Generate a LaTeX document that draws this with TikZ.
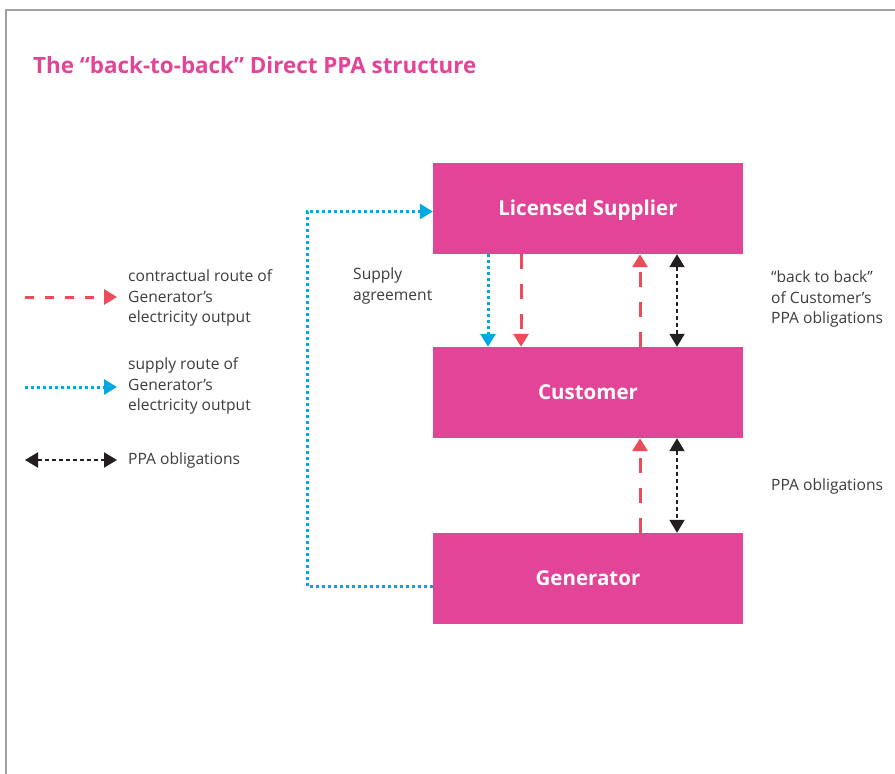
\documentclass[tikz,border=0pt]{standalone}
\usepackage{fontspec}
\setmainfont{Open Sans}
\usetikzlibrary{arrows.meta,calc}
\definecolor{ppapink}{HTML}{E24497}
\definecolor{ppared}{HTML}{EE4B5A}
\definecolor{ppablue}{HTML}{00A9E0}
\definecolor{ppablack}{HTML}{231F20}
\definecolor{ppagrey}{HTML}{A0A0A0}
\definecolor{ppatext}{HTML}{3C3C3C}
\tikzset{
  box/.style={fill=ppapink, minimum width=310pt, minimum height=91pt, inner sep=0pt,
    text=white, font=\fontsize{20.5}{24}\selectfont\bfseries, text height=14.6pt, text depth=0pt},
  lbl/.style={anchor=west, align=left, inner sep=0pt, text=ppatext,
    font=\fontsize{15.6}{20.5}\selectfont},
  redarr/.style={draw=ppared, line width=3pt, dash pattern=on 15pt off 15pt,
    -{Triangle[width=15pt,length=13pt,fill=ppared]}},
  legred/.style={draw=ppared, line width=3pt, dash pattern=on 9pt off 11pt,
    -{Triangle[width=15pt,length=13pt,fill=ppared]}},
  bluearr/.style={draw=ppablue, line width=3pt, dash pattern=on 3pt off 3pt,
    -{Triangle[width=15pt,length=13pt,fill=ppablue]}},
  blkarr/.style={draw=ppablack, line width=2pt, dash pattern=on 4pt off 3pt,
    {Triangle[width=15pt,length=13pt,fill=ppablack]}-{Triangle[width=15pt,length=13pt,fill=ppablack]}},
}
\begin{document}
\begin{tikzpicture}[x=1pt,y=-1pt]
\useasboundingbox (0,0) rectangle (895,774);
% frame
\draw[ppagrey, line width=1.5pt] (6,774) -- (6,10) -- (895,10);
% title
\node[anchor=west, inner sep=0pt, text=ppapink, font=\fontsize{22.4}{26}\selectfont\bfseries] (title) at (33,65) {The “back-to-back” Direct PPA structure};
% boxes
\node[box] (LS) at (588,208.5) {Licensed Supplier};
\node[box] (C) at (588,392.5) {Customer};
\node[box] (G) at (588,578.5) {Generator};
% x positions
\coordinate (xb) at (488,0);
\coordinate (xr) at (521,0);
\coordinate (xu) at (640,0);
\coordinate (xk) at (677,0);
% arrows between LS and Customer
\draw[bluearr] (LS.south -| xb) -- (C.north -| xb);
\draw[redarr] (LS.south -| xr) -- (C.north -| xr);
\draw[redarr] (C.north -| xu) -- (LS.south -| xu);
\draw[blkarr] (LS.south -| xk) -- (C.north -| xk);
% arrows between Customer and Generator
\draw[redarr] (G.north -| xu) -- (C.south -| xu);
\draw[blkarr] (C.south -| xk) -- (G.north -| xk);
% supply route
\coordinate (xl) at (307,0);
\coordinate (lsin) at ([yshift=-3pt]LS.west);
\coordinate (gout) at ([yshift=-8pt]G.west);
\draw[bluearr] (gout) -| (xl |- lsin) -- (lsin);
% labels
\node[lbl] (sa) at (353,286) {Supply\\agreement};
\node[lbl] (bb) at (771,299) {“back to back”\\of Customer’s\\PPA obligations};
\node[lbl] (po) at (771,486) {PPA obligations};
% legend
\coordinate (l1a) at (25,297); \coordinate (l1b) at (117,297);
\coordinate (l2a) at (25,387); \coordinate (l2b) at (117,387);
\coordinate (l3a) at (25,460); \coordinate (l3b) at (117,460);
\draw[legred] (l1a) -- (l1b);
\draw[bluearr] (l2a) -- (l2b);
\draw[blkarr] (l3a) -- (l3b);
\node[lbl] (t1) at (128,298) {contractual route of\\Generator’s\\electricity output};
\node[lbl] (t2) at (128,386) {supply route of\\Generator’s\\electricity output};
\node[lbl] (t3) at (128,460) {PPA obligations};
\end{tikzpicture}
\end{document}
